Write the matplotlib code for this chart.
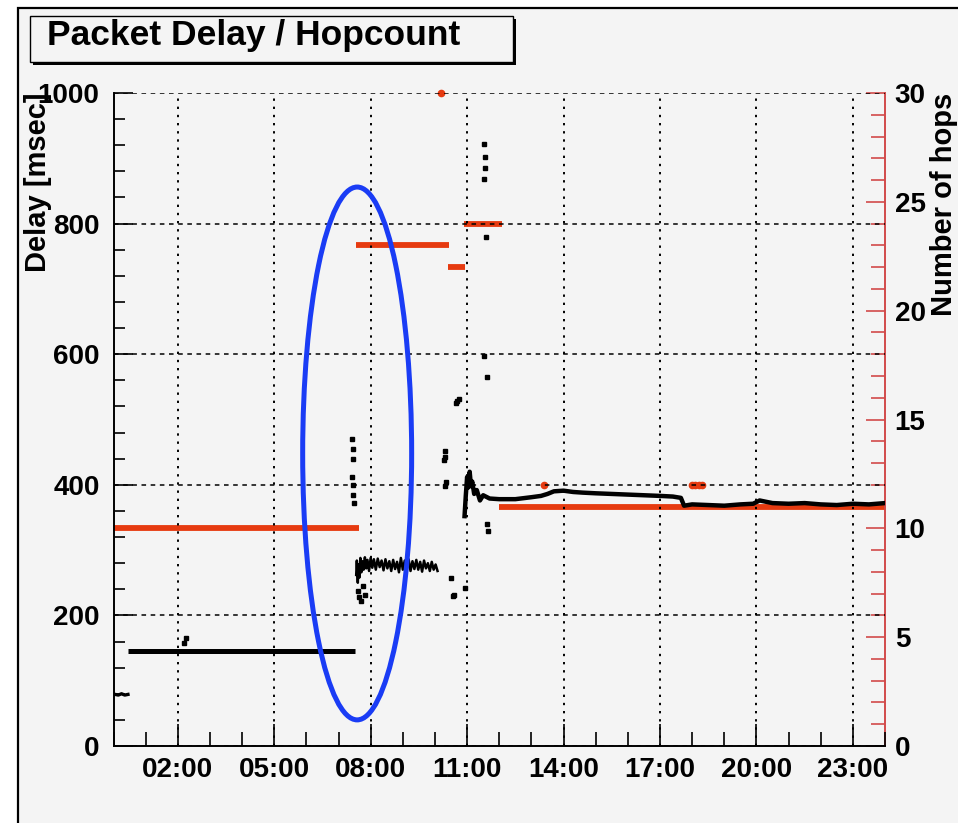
import matplotlib
matplotlib.use("Agg")
import matplotlib.pyplot as plt
import matplotlib.ticker as mticker
from matplotlib.patches import Rectangle, Ellipse

plt.rcParams["font.family"] = ["Liberation Sans", "DejaVu Sans"]
plt.rcParams["font.weight"] = "bold"

# ---- data (hours of day, delay in msec, hops) ----
# flat early delay level
base_hours = [0.45, 7.5]
base_delay = [145, 145]

# very first samples
early_hours = [0.05, 0.15, 0.25, 0.35, 0.45]
early_delay = [79, 78, 80, 78, 79]

# dense cluster after the route change
cluster_hours = [7.55, 7.57, 7.6, 7.62, 7.65, 7.68, 7.71, 7.74, 7.78, 7.82, 7.86, 7.9,
                 7.95, 8.0, 8.05, 8.1, 8.16, 8.22, 8.28, 8.34, 8.4, 8.46, 8.52, 8.58,
                 8.64, 8.7, 8.76, 8.82, 8.88, 8.94, 9.0, 9.06, 9.12, 9.18, 9.24, 9.3,
                 9.36, 9.42, 9.48, 9.54, 9.6, 9.66, 9.72, 9.78, 9.84, 9.9, 9.96, 10.02,
                 10.08]
cluster_delay = [262, 284, 250, 278, 258, 288, 266, 283, 270, 289, 272, 285, 268,
                 288, 273, 286, 270, 287, 274, 284, 269, 286, 272, 283, 268,
                 285, 271, 282, 266, 288, 270, 284, 272, 286, 268, 283, 271,
                 285, 270, 282, 267, 284, 272, 280, 268, 282, 270, 278, 268]

# main trace after 11:00
trace_hours = [10.92, 10.96, 11.0, 11.04, 11.08, 11.12, 11.16, 11.22, 11.3, 11.4,
               11.5, 11.7, 12.0, 12.5, 13.0, 13.3, 13.5, 13.7, 14.0, 14.3, 14.6,
               15.0, 15.5, 16.0, 16.5, 17.0, 17.4, 17.65, 17.75, 18.0, 18.5, 19.0,
               19.5, 19.9, 20.1, 20.5, 21.0, 21.5, 22.0, 22.5, 23.0, 23.5, 24.0]
trace_delay = [352, 384, 412, 396, 420, 398, 405, 386, 392, 376,
               384, 379, 378, 378, 381, 383, 386, 390, 391, 389, 388,
               387, 386, 385, 384, 383, 382, 380, 368, 370, 369, 368,
               370, 371, 376, 372, 371, 372, 370, 369, 371, 370, 372]

# isolated delay samples
spot_hours = [2.2, 2.25, 7.42, 7.44, 7.45, 7.43, 7.46, 7.44, 7.47, 7.6, 7.64,
              7.7, 7.76, 7.82, 10.3, 10.32, 10.28, 10.35, 10.3, 10.5, 10.55,
              10.6, 10.7, 10.74, 10.66, 10.95, 11.52, 11.55, 11.55, 11.52, 11.58,
              11.52, 11.62, 11.62, 11.66]
spot_delay = [158, 165, 470, 455, 440, 412, 400, 385, 372, 238, 228,
              222, 245, 232, 452, 443, 438, 404, 398, 258, 230,
              232, 528, 532, 526, 242, 922, 902, 885, 868, 780,
              598, 565, 340, 330]

# hop count plateaus
hop_start = [0.0, 7.55, 10.4, 10.9, 12.0]
hop_end = [7.65, 10.45, 10.95, 12.1, 24.0]
hop_count = [10, 23, 22, 24, 11]

# short hop count excursions
blip_hours = [10.2, 13.4, 18.0, 18.1, 18.2, 18.3]
blip_count = [30, 12, 12, 12, 12, 12]

tick_hours = [2, 5, 8, 11, 14, 17, 20, 23]
tick_labels = ["02:00", "05:00", "08:00", "11:00", "14:00", "17:00", "20:00", "23:00"]

RED = "#e63a10"
AXRED = "#d24a4a"
FS = 20

fig = plt.figure(figsize=(9.58, 8.23), dpi=100)
fig.patch.set_facecolor("white")
fig.add_artist(Rectangle((18 / 958, -0.1), 1.2, (823 - 8) / 823 + 0.1,
                         transform=fig.transFigure, facecolor="#f4f4f4",
                         edgecolor="black", lw=1.6, zorder=0))

# title box with shadow
fig.add_artist(Rectangle((33 / 958, (823 - 65) / 823), 483 / 958, 46 / 823,
                         transform=fig.transFigure, facecolor="black", lw=0))
fig.add_artist(Rectangle((30 / 958, (823 - 62) / 823), 483 / 958, 46 / 823,
                         transform=fig.transFigure, facecolor="#f4f4f4",
                         edgecolor="black", lw=1))
fig.text(47 / 958, (823 - 45) / 823, "Packet Delay / Hopcount",
         fontsize=25.5, fontweight="bold", va="baseline", ha="left")

ax = fig.add_axes([113.5 / 958, 77 / 823, 771.5 / 958, 653 / 823])
ax2 = ax.twinx()
ax.set_zorder(ax2.get_zorder() + 1)
ax.patch.set_visible(False)
ax2.patch.set_visible(False)

# hop count (right axis)
ax2.hlines(hop_count, hop_start, hop_end, color=RED, lw=4.2)
ax2.plot(blip_hours, blip_count, ls="none", marker="o", ms=4.5, color=RED,
         clip_on=False)
ax2.set_ylim(0, 30)
ax2.yaxis.set_major_locator(mticker.MultipleLocator(5))
ax2.yaxis.set_minor_locator(mticker.MultipleLocator(1))
ax2.tick_params(axis="y", which="both", direction="in", colors=AXRED,
                labelcolor="black", labelsize=FS, pad=7)
ax2.tick_params(axis="y", which="major", length=14, width=1.2)
ax2.tick_params(axis="y", which="minor", length=10, width=1.2)
ax2.set_ylabel("Number of hops", fontsize=21, fontweight="bold", loc="top")
ax2.yaxis.set_label_coords(1.058, 1.0)
for s in ("top", "left", "bottom"):
    ax2.spines[s].set_visible(False)
ax2.spines["right"].set_color(AXRED)
ax2.spines["right"].set_linewidth(1.4)

# delay (left axis)
ax.plot(base_hours, base_delay, color="black", lw=3.6, solid_capstyle="butt")
ax.plot(early_hours, early_delay, color="black", lw=2.4)
ax.plot(cluster_hours, cluster_delay, color="black", lw=1.8)
ax.plot(trace_hours, trace_delay, color="black", lw=3.2)
ax.plot(spot_hours, spot_delay, ls="none", marker="s", ms=2.4, color="black")

ax.set_xlim(0, 24)
ax.set_ylim(0, 1000)
ax.xaxis.set_major_locator(mticker.FixedLocator(tick_hours))
ax.xaxis.set_major_formatter(mticker.FixedFormatter(tick_labels))
ax.xaxis.set_minor_locator(mticker.MultipleLocator(1))
ax.yaxis.set_major_locator(mticker.MultipleLocator(200))
ax.yaxis.set_minor_locator(mticker.MultipleLocator(40))
ax.tick_params(axis="both", which="both", direction="in", labelsize=FS,
               right=False, top=False, width=1.2)
ax.tick_params(axis="y", which="major", length=14, pad=10)
ax.tick_params(axis="y", which="minor", length=8)
ax.tick_params(axis="x", which="major", length=16, pad=8)
ax.tick_params(axis="x", which="minor", length=10)
ax.xaxis.grid(True, which="major", color="black", ls=(0, (1.2, 3)), lw=1.4)
ax.yaxis.grid(True, which="major", color="black", ls=(0, (3, 3)), lw=1.1)
ax.set_ylabel("Delay [msec]", fontsize=21, fontweight="bold", loc="top")
ax.yaxis.set_label_coords(-0.08, 1.0)
for s in ("top", "right"):
    ax.spines[s].set_visible(False)
ax.spines["left"].set_linewidth(1.4)
ax.spines["bottom"].set_linewidth(1.4)

# highlight around the route change
ax.add_patch(Ellipse((7.58, 448), 3.39, 816, fill=False, edgecolor="#1a3cf5",
                     lw=3.6, zorder=5, clip_on=False))

fig.savefig("out.png", dpi=100)
